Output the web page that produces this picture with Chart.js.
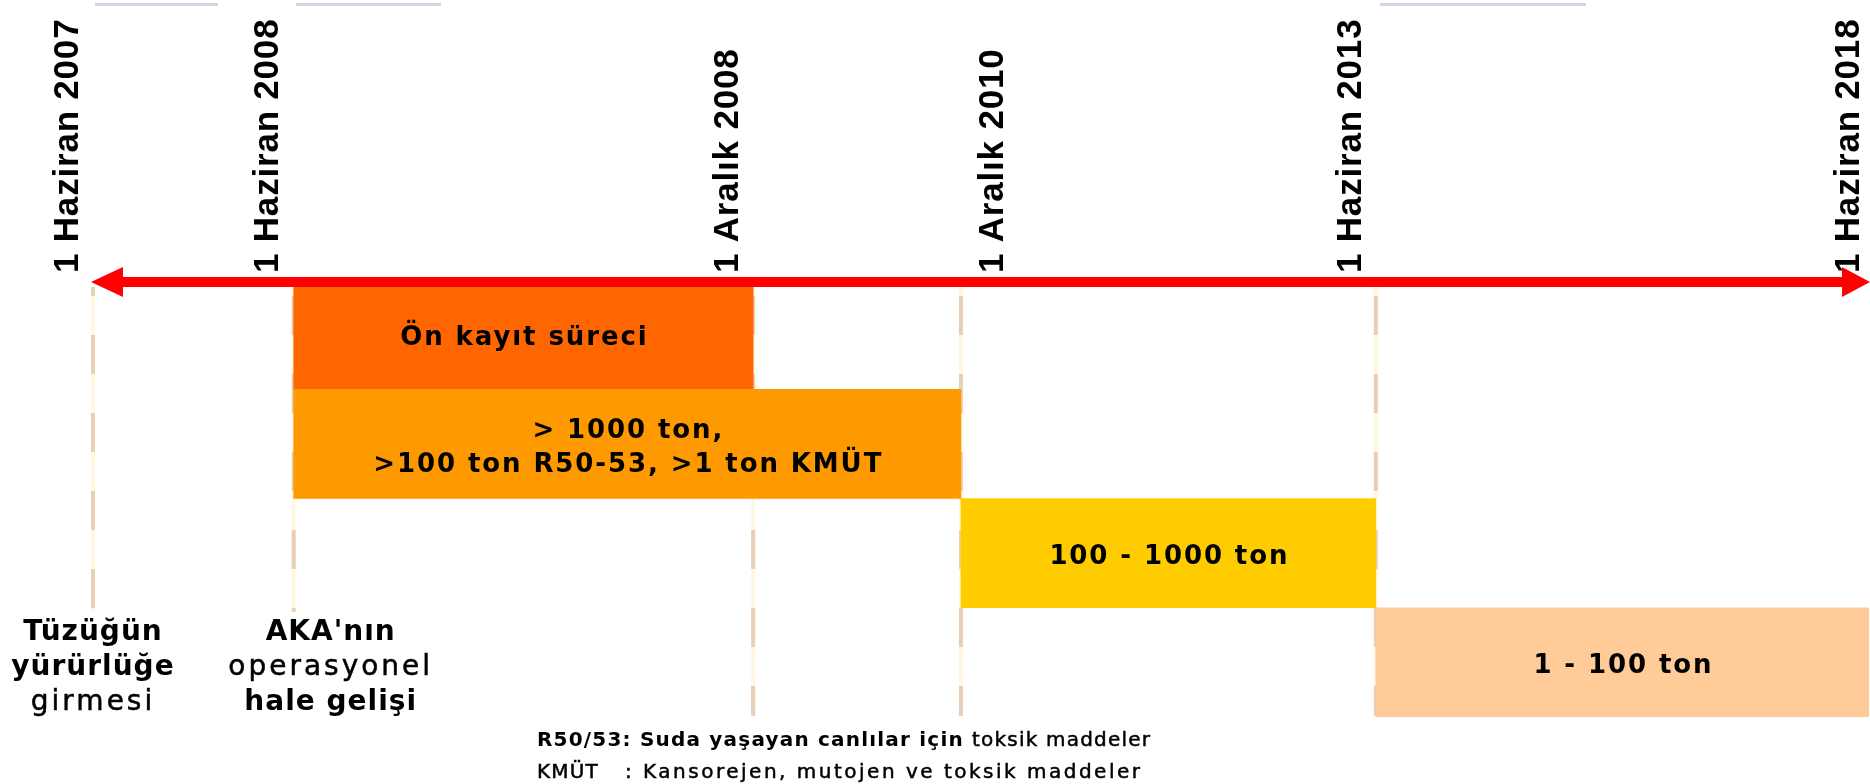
<!DOCTYPE html>
<html><head><meta charset="utf-8">
<script src="https://cdn.jsdelivr.net/npm/chart.js@4.4.1/dist/chart.umd.min.js"></script>
<style>html,body{margin:0;padding:0;background:#fff;overflow:hidden}canvas{display:block}</style>
</head><body>
<canvas id="c" width="1870" height="784"></canvas>
<script>
// ---- data ----
const milestoneLabels = ['1 Haziran 2007', '1 Haziran 2008', '1 Aralık 2008', '1 Aralık 2010', '1 Haziran 2013', '1 Haziran 2018'];
// schematic (not-to-scale) position of each milestone along the timeline, 0..100
const milestonePos = [0, 11.3, 37.17, 48.87, 72.23, 100];
const phaseLabels = ['Ön kayıt süreci', ['> 1000 ton,', '>100 ton R50-53, >1 ton KMÜT'], '100 - 1000 ton', '1 - 100 ton'];
const phaseStart = [1, 1, 3, 4];   // milestone index where each phase starts
const phaseEnd = [2, 3, 4, 5];     // milestone index where each phase ends
const eventNotes = [
  {milestone: 0, lines: [['Tüzüğün', true], ['yürürlüğe', true], ['girmesi', false]]},
  {milestone: 1, lines: [["AKA'nın", true], ['operasyonel', false], ['hale gelişi', true]]}
];
const footnotes = [
  [['R50/53: Suda yaşayan canlılar için ', true], ['toksik maddeler', false]],
  [['KMÜT', false], [': Kansorejen, mutojen ve toksik maddeler', false]]
];

// ---- styles ----
const phaseColors = ['#FF6600', '#FF9900', '#FFCC00', '#FFCC99'];
const labelShift = [-25, -25, -25, 32, -24, -20];   // date label offset from its guide
const noteShift = [0, 37];
const guideRows = [3, 3, 4, 4, 4, 0];
const guidePhase = [30, 69, 69, 69, 69, 69];
const footSpacing = [['1.2px', '1.2px'], ['1.2px', '2.5px']];

function fillRegular(ctx, t, x, y) {
  ctx.fillText(t, x, y);
  ctx.lineWidth = 0.5;
  ctx.strokeStyle = '#000';
  ctx.strokeText(t, x, y);
}

const timelinePlugin = {
  id: 'timeline',
  beforeDatasetsDraw(chart) {
    const {ctx, chartArea: a, scales: {x}} = chart;
    const rowH = (a.bottom - a.top) / phaseLabels.length;
    const y0 = a.top + 7;
    milestonePos.forEach((v, i) => {
      if (!guideRows[i]) return;
      const px = x.getPixelForValue(v);
      const y1 = guideRows[i] < 4 ? a.top + guideRows[i] * rowH + 4 : a.bottom - 1;
      ctx.save();
      ctx.lineWidth = 4;
      ctx.strokeStyle = '#FFF8E1';
      ctx.beginPath(); ctx.moveTo(px, y0); ctx.lineTo(px, y1); ctx.stroke();
      ctx.strokeStyle = '#E8CFB5';
      ctx.setLineDash([39, 39]);
      ctx.lineDashOffset = guidePhase[i];
      ctx.beginPath(); ctx.moveTo(px, y0); ctx.lineTo(px, y1); ctx.stroke();
      ctx.restore();
    });
  },
  afterDatasetsDraw(chart) {
    const {ctx, chartArea: a, scales: {x}} = chart;
    const W = chart.width;
    ctx.save();
    // faint top rules
    ctx.fillStyle = '#CFD7E5';
    [[95, 218], [296, 441], [1380, 1586]].forEach(([s, e]) => ctx.fillRect(s, 3, e - s, 3));
    // red double arrow
    const ay = a.top + 2;
    const left = a.left - 2;
    ctx.fillStyle = '#FF0000';
    ctx.fillRect(left + 20, ay - 5, W - left - 40, 10);
    ctx.beginPath();
    ctx.moveTo(left, ay); ctx.lineTo(left + 32, ay - 15); ctx.lineTo(left + 32, ay + 15); ctx.closePath(); ctx.fill();
    ctx.beginPath();
    ctx.moveTo(W, ay); ctx.lineTo(W - 28, ay - 15); ctx.lineTo(W - 28, ay + 15); ctx.closePath(); ctx.fill();

    // milestone date labels (rotated)
    ctx.fillStyle = '#000';
    ctx.font = 'bold 35px "Liberation Sans", Arial, sans-serif';
    ctx.letterSpacing = '0.8px';
    ctx.textAlign = 'left';
    ctx.textBaseline = 'middle';
    milestoneLabels.forEach((t, i) => {
      const px = x.getPixelForValue(milestonePos[i]) + labelShift[i];
      ctx.save();
      ctx.translate(px, ay - 9);
      ctx.rotate(-Math.PI / 2);
      ctx.fillText(t, 0, 0);
      ctx.restore();
    });

    // phase labels inside bars
    const meta = chart.getDatasetMeta(0);
    ctx.font = 'bold 26px "DejaVu Sans", Verdana, sans-serif';
    ctx.letterSpacing = '1.9px';
    ctx.textAlign = 'center';
    meta.data.forEach((bar, i) => {
      const {x: bx, base, y: by} = bar.getProps(['x', 'base', 'y'], true);
      const cx = (bx + base) / 2;
      const lines = Array.isArray(phaseLabels[i]) ? phaseLabels[i] : [phaseLabels[i]];
      const lh = 34;
      lines.forEach((l, j) => {
        ctx.fillText(l, cx + 1, by + 4 + (j - (lines.length - 1) / 2) * lh);
      });
    });

    // event notes under the first guides
    eventNotes.forEach((n, k) => {
      const cx = x.getPixelForValue(milestonePos[n.milestone]) + noteShift[k];
      n.lines.forEach(([t, b], j) => {
        ctx.font = (b ? 'bold ' : '') + '28px "DejaVu Sans", Verdana, sans-serif';
        ctx.letterSpacing = b ? '1px' : '3px';
        if (b) ctx.fillText(t, cx, 633 + j * 35);
        else fillRegular(ctx, t, cx, 633 + j * 35);
      });
    });

    // footnotes
    ctx.textAlign = 'left';
    footnotes.forEach((parts, j) => {
      let fx = 537;
      const fy = 741 + j * 32;
      parts.forEach(([t, b], k) => {
        ctx.font = (b ? 'bold ' : '') + '20px "DejaVu Sans", Verdana, sans-serif';
        ctx.letterSpacing = footSpacing[j][k];
        if (j === 1 && k === 1) fx = 625;
        if (b) ctx.fillText(t, fx, fy);
        else fillRegular(ctx, t, fx, fy);
        fx += ctx.measureText(t).width;
      });
    });
    ctx.restore();
  }
};

new Chart(document.getElementById('c'), {
  type: 'bar',
  data: {
    labels: phaseLabels,
    datasets: [{
      data: phaseStart.map((s, i) => [milestonePos[s], milestonePos[phaseEnd[i]]]),
      backgroundColor: phaseColors,
      borderWidth: 0,
      barPercentage: 1,
      categoryPercentage: 1
    }]
  },
  options: {
    indexAxis: 'y',
    responsive: false,
    animation: false,
    events: [],
    layout: {padding: {left: 93, right: 1, top: 280, bottom: 67}},
    scales: {
      x: {type: 'linear', min: 0, max: 100, display: false},
      y: {display: false}
    },
    plugins: {legend: {display: false}, tooltip: {enabled: false}}
  },
  plugins: [timelinePlugin]
});
</script>
</body></html>
